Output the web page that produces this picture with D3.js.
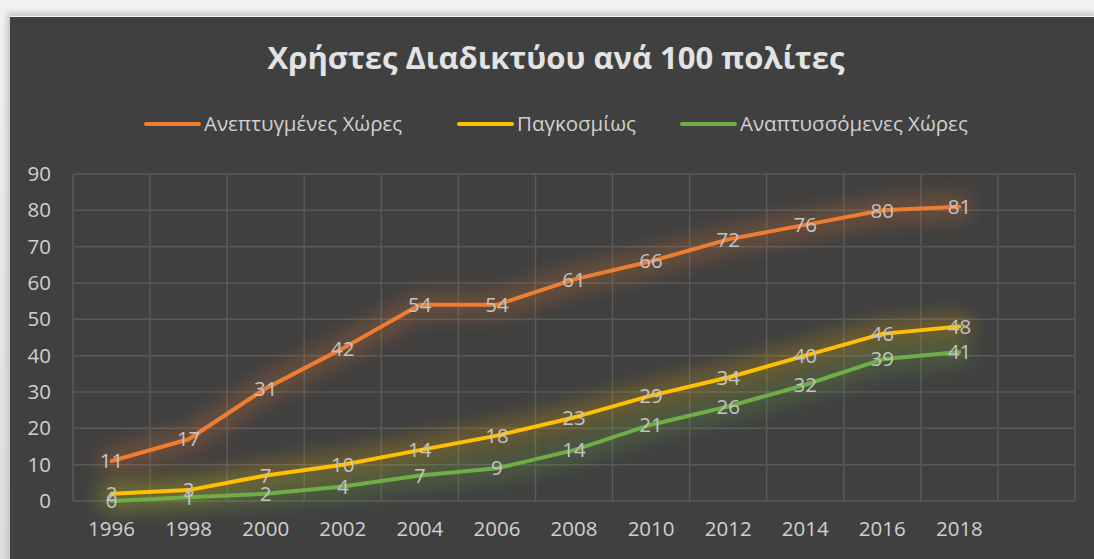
<!DOCTYPE html>
<meta charset="utf-8">
<style>
  html, body {
    margin: 0;
    width: 1094px;
    height: 559px;
    overflow: hidden;
    background: linear-gradient(#f2f2f2, #dedede);
  }
  #chart {
    position: absolute;
    left: 10px;
    top: 16px;
    width: 1084px;
    height: 543px;
    background-color: #404040;
    border-top: 1px solid #f4f4f4;
    box-shadow: 0 0 6px 3px #c4c4c4;
  }
  text { font-family: "Open Sans", "DejaVu Sans", sans-serif; }
</style>
<body>
<div id="chart"></div>
<script src="https://cdn.jsdelivr.net/npm/d3@7"></script>
<script>
  // data
  var years = ["1996", "1998", "2000", "2002", "2004", "2006", "2008", "2010", "2012", "2014", "2016", "2018"];
  var developed = [11, 17, 31, 42, 54, 54, 61, 66, 72, 76, 80, 81];
  var world = [2, 3, 7, 10, 14, 18, 23, 29, 34, 40, 46, 48];
  var developing = [0, 1, 2, 4, 7, 9, 14, 21, 26, 32, 39, 41];
  var seriesNames = ["Ανεπτυγμένες Χώρες", "Παγκοσμίως", "Αναπτυσσόμενες Χώρες"];
  var colors = ["#ED7D31", "#FFC000", "#70AD47"];
  var yTicks = [0, 10, 20, 30, 40, 50, 60, 70, 80, 90];

  var series = [developed, world, developing];

  // sizes, relative to the #chart box
  var W = 1084, H = 543;
  var margin = { top: 158, right: 19, bottom: 58, left: 63 };
  var width = W - margin.left - margin.right,
      height = H - margin.top - margin.bottom;
  var labelSize = "20.5px";

  var svg = d3.select("#chart").append("svg")
    .attr("width", W)
    .attr("height", H)
    .style("position", "absolute")
    .style("left", 0)
    .style("top", "-1px");

  var defs = svg.append("defs");
  defs.append("filter")
    .attr("id", "glow")
    .attr("x", "-20%").attr("y", "-60%")
    .attr("width", "140%").attr("height", "220%")
    .append("feGaussianBlur")
    .attr("stdDeviation", 10);

  // title
  svg.append("text")
    .attr("x", W / 2 + 4)
    .attr("y", 53)
    .attr("text-anchor", "middle")
    .style("font-size", "31px")
    .style("font-weight", "bold")
    .style("fill", "#e3e3e3")
    .text("Χρήστες Διαδικτύου ανά 100 πολίτες");

  // legend
  var legendX = [136, 449, 672];
  var legend = svg.append("g").attr("transform", "translate(0,108)");
  seriesNames.forEach(function (name, i) {
    legend.append("line")
      .attr("x1", legendX[i]).attr("x2", legendX[i] + 53)
      .attr("y1", 0).attr("y2", 0)
      .attr("stroke", colors[i])
      .attr("stroke-width", 4)
      .attr("stroke-linecap", "round");
    legend.append("text")
      .attr("x", legendX[i] + 58)
      .attr("y", 0)
      .attr("dy", "0.35em")
      .style("font-size", labelSize)
      .style("fill", "#d0d0d0")
      .text(name);
  });

  var g = svg.append("g")
    .attr("transform", "translate(" + margin.left + "," + margin.top + ")");

  // 13 slots, the last one is empty
  var x = d3.scaleBand()
    .domain(years.concat([""]))
    .range([0, width]);
  var y = d3.scaleLinear()
    .domain([0, 90])
    .range([height, 0]);

  // gridlines
  g.selectAll(".hgrid")
    .data(yTicks)
    .enter().append("line")
    .attr("x1", 0).attr("x2", width)
    .attr("y1", function (d) { return y(d); })
    .attr("y2", function (d) { return y(d); })
    .attr("stroke", "#595959")
    .attr("stroke-width", 1.5);

  var bounds = x.domain().map(function (d) { return x(d); }).concat([width]);
  g.selectAll(".vgrid")
    .data(bounds)
    .enter().append("line")
    .attr("x1", function (d) { return d; })
    .attr("x2", function (d) { return d; })
    .attr("y1", 0).attr("y2", height)
    .attr("stroke", "#595959")
    .attr("stroke-width", 1.5);

  // y axis
  var yAxis = g.append("g")
    .call(d3.axisLeft(y).tickValues(yTicks).tickSize(0).tickPadding(22));
  yAxis.select(".domain").remove();
  yAxis.selectAll("text")
    .style("font-size", labelSize)
    .style("font-family", "'Open Sans', sans-serif")
    .style("fill", "#d0d0d0");

  // x axis
  var xAxis = g.append("g")
    .attr("transform", "translate(0," + height + ")")
    .call(d3.axisBottom(x).tickSize(0).tickPadding(20));
  xAxis.select(".domain").remove();
  xAxis.selectAll("text")
    .style("font-size", labelSize)
    .style("font-family", "'Open Sans', sans-serif")
    .style("fill", "#d0d0d0");

  var line = d3.line()
    .x(function (d, i) { return x(years[i]) + x.bandwidth() / 2; })
    .y(function (d) { return y(d); });

  // glow underneath
  series.forEach(function (s, i) {
    g.append("path")
      .datum(s)
      .attr("d", line)
      .attr("fill", "none")
      .attr("stroke", colors[i])
      .attr("stroke-width", 26)
      .attr("stroke-linejoin", "round")
      .attr("stroke-linecap", "round")
      .attr("opacity", 0.24)
      .attr("filter", "url(#glow)");
  });

  series.forEach(function (s, i) {
    g.append("path")
      .datum(s)
      .attr("d", line)
      .attr("fill", "none")
      .attr("stroke", colors[i])
      .attr("stroke-width", 4)
      .attr("stroke-linejoin", "round")
      .attr("stroke-linecap", "round");
  });

  // data labels
  series.forEach(function (s, i) {
    g.selectAll(".lbl" + i)
      .data(s)
      .enter().append("text")
      .attr("x", function (d, j) { return x(years[j]) + x.bandwidth() / 2; })
      .attr("y", function (d) { return y(d); })
      .attr("dy", "0.35em")
      .attr("text-anchor", "middle")
      .style("font-size", labelSize)
      .style("fill", "#c4c4c4")
      .text(function (d) { return d; });
  });
</script>
</body>
